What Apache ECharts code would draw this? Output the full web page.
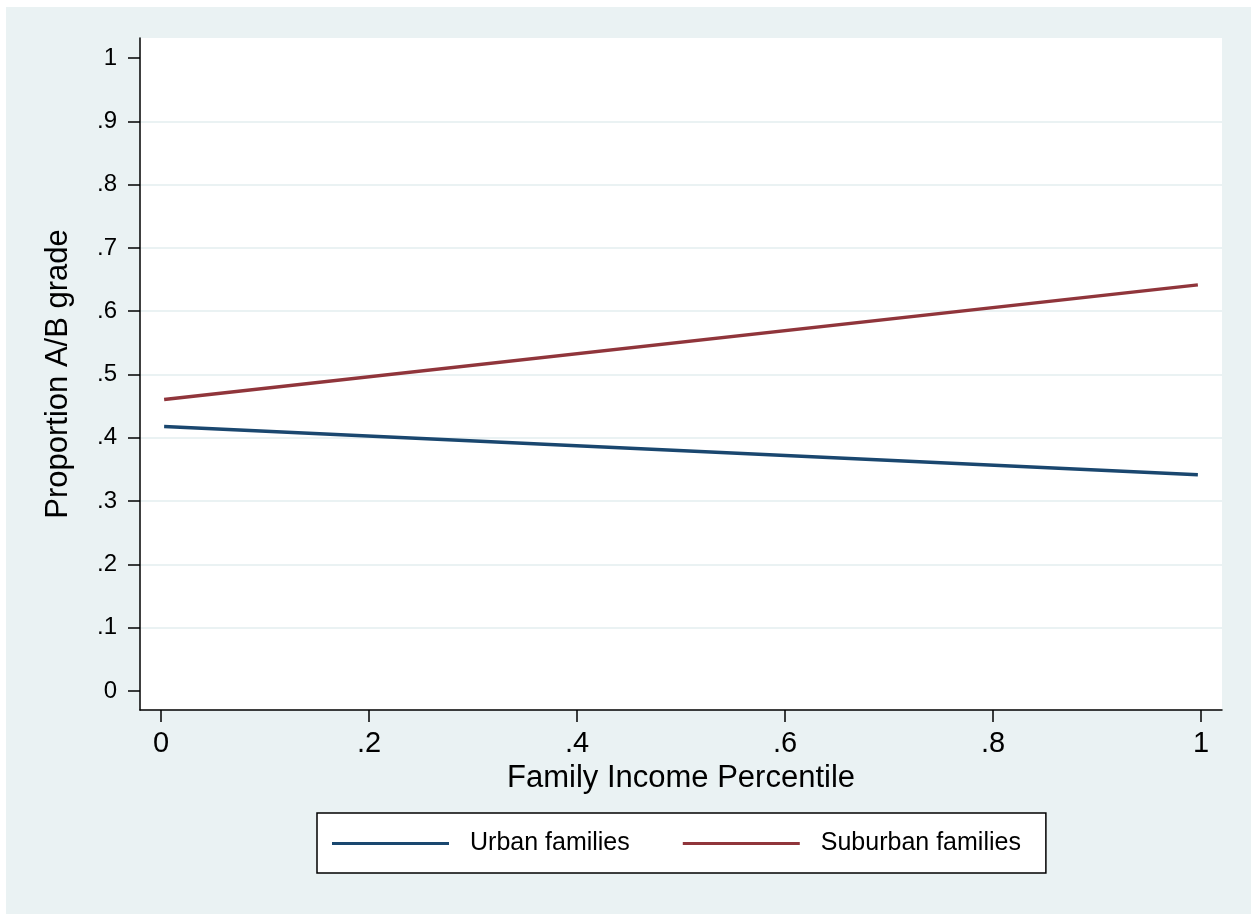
<!DOCTYPE html>
<html>
<head>
<meta charset="utf-8">
<script src="https://cdn.jsdelivr.net/npm/echarts@6/dist/echarts.min.js"></script>
<style>
html,body{margin:0;padding:0;background:#fff;width:1251px;height:914px;overflow:hidden;}
#chart{position:absolute;left:6px;top:7px;width:1245px;height:907px;}
</style>
</head>
<body>
<div id="chart"></div>
<script>
// ---- data ----
const seriesNames = ['Urban families', 'Suburban families'];
const incomeX = [0.003, 0.997];
const urbanY = [0.418, 0.3416];
const suburbanY = [0.4606, 0.6416];
const yTicks = [0, 0.1, 0.2, 0.3, 0.4, 0.5, 0.6, 0.7, 0.8, 0.9, 1];
const yGridTicks = [0.1, 0.2, 0.3, 0.4, 0.5, 0.6, 0.7, 0.8, 0.9];
const xTicks = [0, 0.2, 0.4, 0.6, 0.8, 1];

const FONT = "'Liberation Sans', Arial, Helvetica, sans-serif";
const fmt = v => {
  const s = String(Math.round(v * 10) / 10);
  return s.startsWith('0.') ? s.slice(1) : s;
};
const pairs = (xs, ys) => xs.map((x, i) => [x, ys[i]]);

const chart = echarts.init(document.getElementById('chart'), null, {renderer: 'canvas'});
chart.setOption({
  backgroundColor: '#EAF2F3',
  animation: false,
  textStyle: {fontFamily: FONT},
  grid: {
    left: 134, top: 31, width: 1082, height: 672,
    show: true, backgroundColor: '#ffffff', borderWidth: 0,
    containLabel: false
  },
  xAxis: {
    type: 'value',
    min: -0.0202, max: 1.0202,
    name: 'Family Income Percentile',
    nameLocation: 'middle',
    nameGap: 52,
    nameTextStyle: {fontSize: 31, color: '#000', fontFamily: FONT},
    axisLine: {show: true, onZero: false, lineStyle: {color: '#000', width: 1.5}},
    axisTick: {show: true, length: 12, lineStyle: {color: '#000', width: 1.5}, customValues: xTicks},
    axisLabel: {show: true, customValues: xTicks, formatter: fmt, fontSize: 29, color: '#000', margin: 19, fontFamily: FONT},
    splitLine: {show: false}
  },
  yAxis: [{
    type: 'value',
    min: -0.030, max: 1.0316,
    name: 'Proportion A/B grade',
    nameLocation: 'middle',
    nameGap: 66,
    nameTextStyle: {fontSize: 31, color: '#000', fontFamily: FONT},
    axisLine: {show: true, onZero: false, lineStyle: {color: '#000', width: 1.5}},
    axisTick: {show: true, length: 12, lineStyle: {color: '#000', width: 1.5}, customValues: yTicks},
    axisLabel: {show: true, customValues: yTicks, formatter: fmt, fontSize: 24, color: '#000', margin: 23, fontFamily: FONT},
    splitLine: {show: false}
  }, {
    type: 'value',
    position: 'left',
    min: -0.030, max: 1.0316,
    axisLine: {show: false, onZero: false},
    axisTick: {show: false, customValues: yGridTicks},
    axisLabel: {show: false, customValues: yGridTicks},
    splitLine: {show: true, lineStyle: {color: '#EAF2F3', width: 2}}
  }],
  legend: {
    show: true,
    left: 311, top: 806,
    orient: 'horizontal',
    backgroundColor: '#ffffff',
    borderColor: '#000', borderWidth: 1.5, borderRadius: 0,
    padding: [18, 25, 17, 15],
    itemGap: 53,
    itemWidth: 117, itemHeight: 3,
    icon: 'rect',
    textStyle: {fontSize: 25, color: '#000', fontFamily: FONT, padding: [0, 0, 0, 16]},
    data: seriesNames
  },
  series: [{
    name: seriesNames[0],
    type: 'line',
    data: pairs(incomeX, urbanY),
    showSymbol: false, symbol: 'none',
    lineStyle: {color: '#1a476f', width: 3.5},
    itemStyle: {color: '#1a476f'},
    z: 3
  }, {
    name: seriesNames[1],
    type: 'line',
    data: pairs(incomeX, suburbanY),
    showSymbol: false, symbol: 'none',
    lineStyle: {color: '#90353b', width: 3.5},
    itemStyle: {color: '#90353b'},
    z: 3
  }]
});
</script>
</body>
</html>
